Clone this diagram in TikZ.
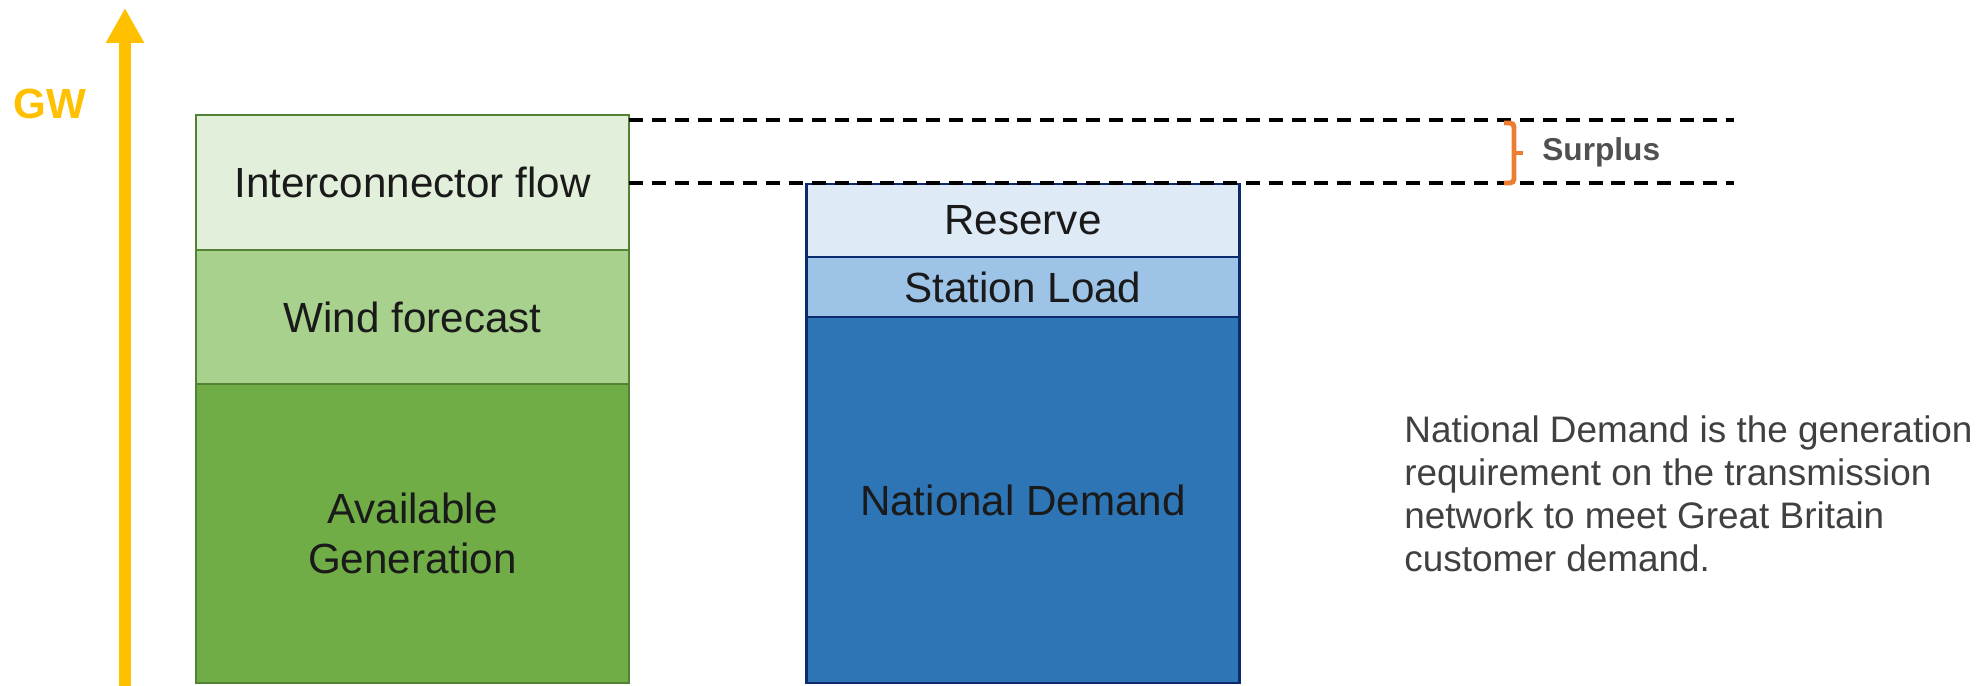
\documentclass[tikz,border=0pt]{standalone}
\usepackage{fontspec}
\setmainfont{Liberation Sans}
\usetikzlibrary{arrows.meta}
\definecolor{axisYellow}{HTML}{FFC000}
\definecolor{braceOrange}{HTML}{ED7D31}
\definecolor{interFill}{HTML}{E2EFDA}
\definecolor{windFill}{HTML}{A9D18E}
\definecolor{availFill}{HTML}{70AD47}
\definecolor{greenEdge}{HTML}{548235}
\definecolor{reserveFill}{HTML}{DEEBF7}
\definecolor{stationFill}{HTML}{9DC3E6}
\definecolor{demandFill}{HTML}{2E75B6}
\definecolor{blueEdge}{HTML}{0E2A6E}
\definecolor{barText}{HTML}{1A1A1A}
\definecolor{noteGray}{HTML}{404040}
\definecolor{surplusGray}{HTML}{505050}
\tikzset{
    bar/.style={draw, line width=1.4pt, inner sep=0pt, outer sep=0pt, minimum width=8.66cm,
        align=center, text=barText, font=\fontsize{24}{28.5}\selectfont},
    greenbar/.style={bar, draw=greenEdge},
    bluebar/.style={bar, draw=blueEdge},
    level/.style={black, line width=2.2pt, dash pattern=on 8pt off 5pt},
    axis/.style={axisYellow, line width=6.8pt, -{Triangle[length=0.7cm,width=0.72cm]}},
    surplusbrace/.style={braceOrange, line width=2.8pt, rounded corners=0.08cm}
}

\begin{document}
\begin{tikzpicture}
    \useasboundingbox (0,0) rectangle (39.64,13.7);
    \coordinate (axis base) at (2.5,-0.2);
    \coordinate (axis top) at (2.5,13.54);
    \draw[axis] (axis base) -- (axis top);
    \node[font=\bfseries\fontsize{24}{28}\selectfont, text=axisYellow] (gw) at (1.0,11.62) {GW};

    \node[greenbar, fill=interFill, minimum height=2.7cm] (inter) at (8.25,10.05) {Interconnector flow};
    \node[greenbar, fill=windFill, minimum height=2.68cm] (wind) at (8.25,7.36) {Wind forecast};
    \node[greenbar, fill=availFill, minimum height=5.98cm] (avail) at (8.25,3.03) {Available\\Generation};

    \node[bluebar, fill=reserveFill, minimum height=1.46cm] (reserve) at (20.46,9.29) {Reserve};
    \node[bluebar, fill=stationFill, minimum height=1.2cm] (station) at (20.46,7.96) {Station Load};
    \node[bluebar, fill=demandFill, minimum height=7.32cm] (demand) at (20.46,3.7) {National Demand};

    \coordinate (top end) at (34.68,11.3);
    \coordinate (mid end) at (34.68,10.04);
    \draw[level] (inter.east |- top end) -- (top end);
    \draw[level] (inter.east |- mid end) -- (mid end);

    \coordinate (brace top) at (30.08,11.24);
    \coordinate (brace bottom) at (30.08,10.04);
    \coordinate (brace tip) at (30.46,10.64);
    \draw[surplusbrace] (brace top) -- (30.28,11.24) -- (30.28,10.04) -- (brace bottom);
    \draw[surplusbrace] (30.28,10.64) -- (brace tip);
    \node[anchor=west, inner sep=0pt, text=surplusGray, font=\bfseries\fontsize{18}{20}\selectfont] (surplus) at (30.84,10.66) {Surplus};

    \node[anchor=north west, align=left, inner sep=0pt, text=noteGray, font=\fontsize{21}{24.5}\selectfont] (note) at (28.08,5.4)
        {National Demand is the generation\\requirement on the transmission\\network to meet Great Britain\\customer demand.};
\end{tikzpicture}
\end{document}
